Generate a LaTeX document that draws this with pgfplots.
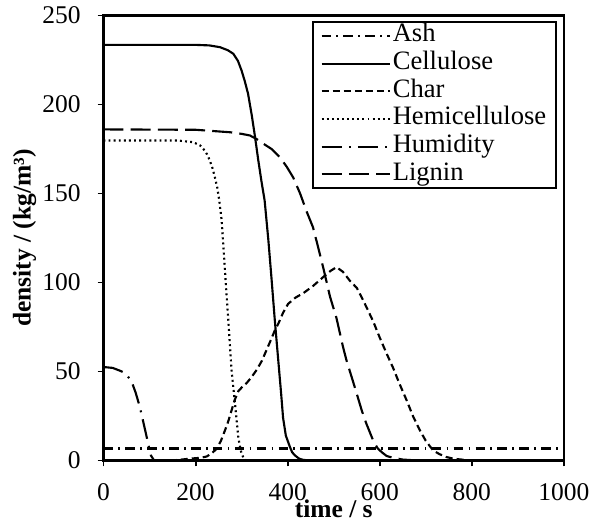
\documentclass[border=0pt]{standalone}
\usepackage{fontspec}
\setmainfont{Liberation Serif}
\usepackage{pgfplots}
\pgfplotsset{compat=1.18}
\begin{document}
\fontsize{12}{14}\selectfont
\begin{tikzpicture}
\useasboundingbox (-48.7pt,-28.5pt) rectangle (229.9pt,216.7pt);
\begin{axis}[
  scale only axis, width=216.7pt, height=209.4pt,
  xmin=0, xmax=1000, ymin=0, ymax=250,
  xtick={0,200,...,1000}, ytick={0,50,...,250},
  tick align=outside, xtick pos=bottom, ytick pos=left,
  major tick length=2.8pt,
  axis line style={line width=1pt},
  every tick/.style={line width=0.9pt, black},
  /pgf/number format/assume math mode=true,
  /pgf/number format/1000 sep={},
  ticklabel style={font=\fontsize{12}{14}\selectfont},
  xticklabel style={yshift=-3.8pt},
  yticklabel style={xshift=-3.8pt},
  xlabel={\textbf{time / s}},
  ylabel={\textbf{density / (kg/m³)}},
  xlabel style={at={(axis description cs:0.5,-0.129)}, anchor=base, font=\fontsize{12}{14}\selectfont},
  ylabel style={at={(axis description cs:-0.158,0.5)}, anchor=base, font=\fontsize{12}{14}\selectfont},
  legend image code/.code={\draw[#1] (0pt,0pt) -- (32pt,0pt);},
  legend style={at={(rel axis cs:0.985,0.987)}, anchor=north east, draw=black, line width=1pt,
    font=\fontsize{12.5}{14}\selectfont, inner xsep=3.6pt, inner ysep=0pt,
    nodes={inner xsep=1pt, inner ysep=0.5pt, text height=8.7pt, text depth=3.3pt}},
  legend cell align=left,
  every axis plot/.append style={line width=1pt, black},
]
\addplot[dash pattern=on 4.5pt off 2.5pt on 0.8pt off 2.5pt] coordinates {(0,6.7)(1000,6.7)};
\addlegendentry{Ash}
\addplot[solid] coordinates {(0,233.5)(200,233.5)(230,233.2)(253,232.2)(270,230.5)(282,228.5)(292,224.5)(300,219)(307,213)(314,206)(322,194)(329,182)(336,169)(343,157)(350,146)(358,124)(365,102)(372,79)(380,55)(386,37)(390,24)(396,14)(405,7.5)(410,4.5)(416,2.8)(425,1)(434,0.3)(450,0)(1000,0)};
\addlegendentry{Cellulose}
\addplot[dash pattern=on 3.3pt off 1.9pt] coordinates {(0,0)(150,0)(188,1)(210,1.5)(224,2.2)(235,4)(246,6.6)(255,11)(264,17)(271,22)(278,28)(285,34)(293,39)(302,41.5)(311,43.5)(322,47)(333,51)(344,56)(354,62)(364,68)(372,73)(380,77)(390,83)(401,88)(417,91.5)(434,94)(455,98)(477,103)(493,106.5)(506,108.6)(520,106)(535,101)(550,97)(564,90)(575,84)(586,78)(600,69)(615,60)(629,52)(643,43)(658,34)(672,25)(687,17)(700,11)(716,5.6)(730,3.5)(745,1.9)(760,1)(781,0.4)(800,0)(1000,0)};
\addlegendentry{Char}
\addplot[dash pattern=on 0.9pt off 1.5pt] coordinates {(0,179.8)(160,179.8)(195,178.8)(210,177)(217,175)(225,172)(231,168.5)(237,164)(242,159)(247,153.5)(251.5,146)(256.6,135)(261,118)(266,98)(271,79)(278,51)(285.6,32)(292.8,13)(297,7)(300,3.8)(305,1)(310,0)(1000,0)};
\addlegendentry{Hemicellulose}
\addplot[dash pattern=on 9.4pt off 3.4pt on 0.9pt off 3.4pt] coordinates {(0,52.5)(20,52)(35,50.5)(43,49.6)(52,47.5)(61,44.4)(70,38)(79,30)(87,21)(94,13)(100,6)(103,2.8)(110,0)(1000,0)};
\addlegendentry{Humidity}
\addplot[dash pattern=on 9.4pt off 3.4pt] coordinates {(0,186)(200,185.8)(275,184.4)(300,183.5)(318,182.6)(333,180.5)(347,178)(365,175)(383,170.4)(398,165)(412,159)(427,150)(441,140)(455,131)(466,120)(477,108.6)(492,92)(506,80)(520,64)(528,56)(540,46)(550,37.5)(561,28)(571,20.6)(586,11)(595,7)(604,4.7)(615,2.5)(629,1.5)(650,0.5)(680,0)(1000,0)};
\addlegendentry{Lignin}
\end{axis}
\end{tikzpicture}
\end{document}
